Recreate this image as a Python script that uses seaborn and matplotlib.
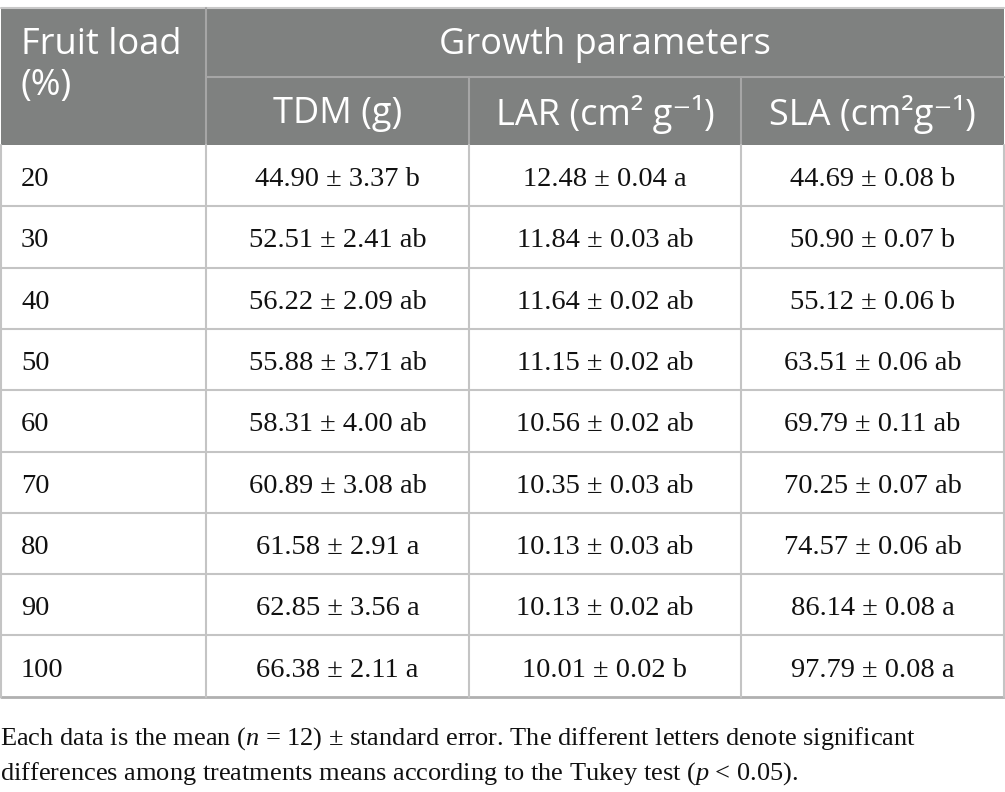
import seaborn as sns
import matplotlib.pyplot as plt

# Table contents
fruit_load = ["20", "30", "40", "50", "60", "70", "80", "90", "100"]
tdm = ["44.90 ± 3.37 b", "52.51 ± 2.41 ab", "56.22 ± 2.09 ab", "55.88 ± 3.71 ab",
       "58.31 ± 4.00 ab", "60.89 ± 3.08 ab", "61.58 ± 2.91 a", "62.85 ± 3.56 a",
       "66.38 ± 2.11 a"]
lar = ["12.48 ± 0.04 a", "11.84 ± 0.03 ab", "11.64 ± 0.02 ab", "11.15 ± 0.02 ab",
       "10.56 ± 0.02 ab", "10.35 ± 0.03 ab", "10.13 ± 0.03 ab", "10.13 ± 0.02 ab",
       "10.01 ± 0.02 b"]
sla = ["44.69 ± 0.08 b", "50.90 ± 0.07 b", "55.12 ± 0.06 b", "63.51 ± 0.06 ab",
       "69.79 ± 0.11 ab", "70.25 ± 0.07 ab", "74.57 ± 0.06 ab", "86.14 ± 0.08 a",
       "97.79 ± 0.08 a"]
col_headers = ["TDM (g)", "LAR (cm² g⁻¹)", "SLA (cm²g⁻¹)"]
group_header = "Growth parameters"
first_header = ["Fruit load", "(%)"]
footnote = ("Each data is the mean ($n$ = 12) ± standard error. The different letters denote significant\n"
            "differences among treatments means according to the Tukey test ($p$ < 0.05).")

sns.set_style("white")
plt.rcParams["mathtext.fontset"] = "custom"
plt.rcParams["mathtext.rm"] = "Liberation Serif"
plt.rcParams["mathtext.it"] = "Liberation Serif:italic"

# layout in pixels
W, H = 1005, 792
col_edges = [1, 206, 469, 741, 1004]
head_top, head_mid, head_bot = 8, 77, 145
row_h = 61.3
header_gray = "#7f8180"
line_gray = "#c4c4c4"
sans = ["Open Sans", "DejaVu Sans"]
serif = ["Liberation Serif", "DejaVu Serif"]
head_fs = 26
body_fs = 20.5

fig = plt.figure(figsize=(W / 100, H / 100), dpi=100)
ax = fig.add_axes([0, 0, 1, 1])
ax.set_xlim(0, W)
ax.set_ylim(H, 0)
ax.axis("off")

# header block
ax.fill_between([col_edges[0], col_edges[-1]], head_top, head_bot, color=header_gray, lw=0)
ax.plot([col_edges[0], col_edges[-1]], [head_top, head_top], color="#c8c8c8", lw=1.5)
ax.plot([col_edges[1], col_edges[-1]], [head_mid, head_mid], color="#a6a6a6", lw=1.5)
for x in col_edges[2:-1]:
    ax.plot([x, x], [head_mid, head_bot], color="#a6a6a6", lw=1.5)
ax.plot([col_edges[1], col_edges[1]], [head_top, head_bot], color="#a6a6a6", lw=1.5)

ax.text(21, 45, first_header[0], color="white", fontsize=head_fs, family=sans,
        va="center", ha="left")
ax.text(21, 86, first_header[1], color="white", fontsize=head_fs, family=sans,
        va="center", ha="left")
ax.text((col_edges[1] + col_edges[-1]) / 2, 45, group_header, color="white",
        fontsize=head_fs, family=sans, ha="center", va="center")
for i, h in enumerate(col_headers):
    xc = (col_edges[i + 1] + col_edges[i + 2]) / 2
    ax.text(xc, 114, h, color="white", fontsize=head_fs, family=sans, ha="center", va="center")

# body rows
n = len(fruit_load)
bottom = head_bot + n * row_h
for i in range(n):
    yc = head_bot + (i + 0.5) * row_h + 4
    ax.text(21, yc, fruit_load[i], fontsize=body_fs, family=serif, ha="left", va="center", color="#111111")
    for j, vals in enumerate([tdm, lar, sla]):
        xc = (col_edges[j + 1] + col_edges[j + 2]) / 2
        ax.text(xc, yc, vals[i], fontsize=body_fs, family=serif, ha="center", va="center", color="#111111")
    if i > 0:
        y = head_bot + i * row_h
        ax.plot([col_edges[0], col_edges[-1]], [y, y], color=line_gray, lw=1.5)

ax.plot([col_edges[0], col_edges[-1]], [bottom, bottom], color="#b0b0b0", lw=2)
for x in col_edges:
    ax.plot([x, x], [head_bot, bottom], color=line_gray, lw=1.5)

ax.text(0, 725, footnote, fontsize=19, family=serif, ha="left", va="top",
        color="#111111", linespacing=1.45)

fig.savefig("out.png", dpi=100)
